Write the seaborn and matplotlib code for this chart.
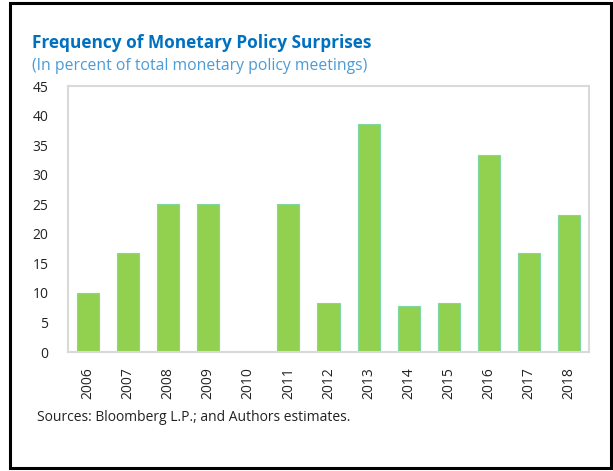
import matplotlib
matplotlib.use("Agg")
import matplotlib.pyplot as plt
import seaborn as sns
import pandas as pd
from matplotlib.patches import Rectangle

years = ["2006", "2007", "2008", "2009", "2010", "2011", "2012",
         "2013", "2014", "2015", "2016", "2017", "2018"]
surprises = [10.0, 16.7, 25.0, 25.0, 0.0, 25.0, 8.3,
             38.5, 7.7, 8.3, 33.3, 16.7, 23.1]
yticks = [0, 5, 10, 15, 20, 25, 30, 35, 40, 45]

title = "Frequency of Monetary Policy Surprises"
subtitle = "(In percent of total monetary policy meetings)"
source = "Sources: Bloomberg L.P.; and Authors estimates."

sns.set_theme(style="white")
plt.rcParams['font.family'] = ['Open Sans', 'DejaVu Sans']

df = pd.DataFrame({"year": years, "value": surprises})

W, H = 613, 471
fig = plt.figure(figsize=(W / 100, H / 100), dpi=100)
ax = fig.add_axes([68 / W, 1 - 352 / H, (589 - 68) / W, (352 - 86) / H])

sns.barplot(data=df, x="year", y="value", ax=ax, color="#92D050",
            width=0.55, edgecolor="#7FD8A0", linewidth=0.8, saturation=1)

ax.set_ylim(0, 45)
ax.set_yticks(yticks)
ax.set_yticklabels([str(t) for t in yticks], fontsize=10, color="#222222")
ax.set_xticks(range(len(years)))
ax.set_xticklabels(years, rotation=90, fontsize=10, color="#222222")
ax.tick_params(axis="both", length=0)
ax.tick_params(axis="x", pad=11)
ax.tick_params(axis="y", pad=14)
ax.set_xlabel("")
ax.set_ylabel("")
for s in ax.spines.values():
    s.set_visible(True)
    s.set_color("#D9D9D9")
    s.set_linewidth(1.5)

fig.text(32 / W, 1 - 48 / H, title, fontsize=12.4, fontweight="bold",
         color="#0070C0", va="baseline", ha="left")
fig.text(32 / W, 1 - 70 / H, subtitle, fontsize=11.3,
         color="#4A9BD8", va="baseline", ha="left")
fig.text(37 / W, 1 - 421 / H, source, fontsize=10,
         color="#222222", va="baseline", ha="left")

fig.patches.append(Rectangle((10 / W, 3 / H), (611 - 10) / W, (468 - 3) / H,
                             transform=fig.transFigure, fill=False,
                             edgecolor="black", linewidth=2.2))

fig.savefig("out.png", dpi=100)
